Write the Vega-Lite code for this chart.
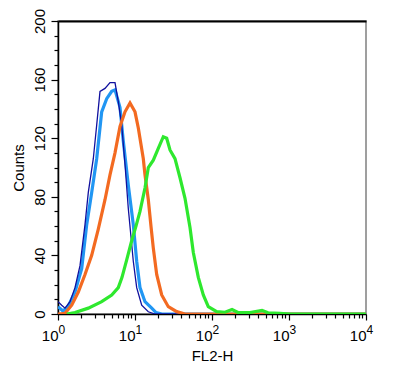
{
  "$schema": "https://vega.github.io/schema/vega-lite/v6.json",
  "width": 308,
  "height": 293,
  "autosize": {"type": "none"},
  "padding": {"left": 58, "top": 21, "right": 34, "bottom": 62},
  "background": "white",
  "config": {
    "font": "Liberation Sans",
    "view": {"stroke": "#808080", "strokeWidth": 1.5},
    "axis": {"grid": false, "labelColor": "black", "titleColor": "black", "tickColor": "black", "domainColor": "black", "titleFontWeight": "normal", "labelFontSize": 15, "titleFontSize": 15}
  },
  "data": {
    "values": [
      {"s": "navy", "x": 1, "c": 8.4}, {"s": "navy", "x": 1.117, "c": 6}, {"s": "navy", "x": 1.233, "c": 4}, {"s": "navy", "x": 1.432, "c": 8.4}, {"s": "navy", "x": 1.663, "c": 18}, {"s": "navy", "x": 1.931, "c": 33}, {"s": "navy", "x": 2.242, "c": 61}, {"s": "navy", "x": 2.475, "c": 83}, {"s": "navy", "x": 2.874, "c": 106}, {"s": "navy", "x": 3.181, "c": 129}, {"s": "navy", "x": 3.511, "c": 152}, {"s": "navy", "x": 4.077, "c": 154}, {"s": "navy", "x": 4.734, "c": 158}, {"s": "navy", "x": 5.499, "c": 158}, {"s": "navy", "x": 6.069, "c": 145}, {"s": "navy", "x": 6.72, "c": 129}, {"s": "navy", "x": 7.418, "c": 102}, {"s": "navy", "x": 8.185, "c": 72}, {"s": "navy", "x": 9.504, "c": 36}, {"s": "navy", "x": 10.52, "c": 18}, {"s": "navy", "x": 12.22, "c": 6}, {"s": "navy", "x": 14.89, "c": 1.5}, {"s": "navy", "x": 18.19, "c": 0}, {"s": "navy", "x": 10000, "c": 0},
      {"s": "sky", "x": 1, "c": 5}, {"s": "sky", "x": 1.161, "c": 2}, {"s": "sky", "x": 1.348, "c": 5}, {"s": "sky", "x": 1.663, "c": 15}, {"s": "sky", "x": 2.031, "c": 31}, {"s": "sky", "x": 2.359, "c": 61}, {"s": "sky", "x": 2.739, "c": 83}, {"s": "sky", "x": 3.181, "c": 106}, {"s": "sky", "x": 3.694, "c": 138}, {"s": "sky", "x": 4.29, "c": 147}, {"s": "sky", "x": 4.983, "c": 152}, {"s": "sky", "x": 5.499, "c": 153}, {"s": "sky", "x": 6.386, "c": 141}, {"s": "sky", "x": 7.047, "c": 118}, {"s": "sky", "x": 8.185, "c": 88}, {"s": "sky", "x": 9.504, "c": 61}, {"s": "sky", "x": 10.52, "c": 36}, {"s": "sky", "x": 11.61, "c": 18}, {"s": "sky", "x": 13.48, "c": 8.4}, {"s": "sky", "x": 16.48, "c": 4}, {"s": "sky", "x": 18.74, "c": 1}, {"s": "sky", "x": 22.42, "c": 0}, {"s": "sky", "x": 10000, "c": 0},
      {"s": "orange", "x": 1, "c": 0}, {"s": "orange", "x": 1.233, "c": 0.5}, {"s": "orange", "x": 1.506, "c": 6}, {"s": "orange", "x": 1.835, "c": 15}, {"s": "orange", "x": 2.242, "c": 27}, {"s": "orange", "x": 2.739, "c": 40}, {"s": "orange", "x": 3.337, "c": 58}, {"s": "orange", "x": 4.077, "c": 78}, {"s": "orange", "x": 4.734, "c": 95}, {"s": "orange", "x": 5.499, "c": 110}, {"s": "orange", "x": 6.386, "c": 128}, {"s": "orange", "x": 7.418, "c": 138}, {"s": "orange", "x": 8.612, "c": 144}, {"s": "orange", "x": 10, "c": 138}, {"s": "orange", "x": 11.04, "c": 127}, {"s": "orange", "x": 12.82, "c": 106}, {"s": "orange", "x": 13.48, "c": 95}, {"s": "orange", "x": 14.89, "c": 78}, {"s": "orange", "x": 16.12, "c": 60}, {"s": "orange", "x": 17.29, "c": 45}, {"s": "orange", "x": 19.13, "c": 27}, {"s": "orange", "x": 22.22, "c": 13}, {"s": "orange", "x": 27.07, "c": 5}, {"s": "orange", "x": 34.8, "c": 1.6}, {"s": "orange", "x": 44.6, "c": 0}, {"s": "orange", "x": 10000, "c": 0},
      {"s": "green", "x": 1.3, "c": 0}, {"s": "green", "x": 1.663, "c": 1}, {"s": "green", "x": 2.475, "c": 4}, {"s": "green", "x": 3.694, "c": 8.4}, {"s": "green", "x": 4.983, "c": 13}, {"s": "green", "x": 6.069, "c": 18}, {"s": "green", "x": 6.781, "c": 25}, {"s": "green", "x": 7.8, "c": 37}, {"s": "green", "x": 9.06, "c": 50}, {"s": "green", "x": 10.3, "c": 60}, {"s": "green", "x": 11.61, "c": 70}, {"s": "green", "x": 13.48, "c": 86}, {"s": "green", "x": 14.89, "c": 100}, {"s": "green", "x": 17.29, "c": 105}, {"s": "green", "x": 20.07, "c": 113}, {"s": "green", "x": 23.31, "c": 121}, {"s": "green", "x": 25.8, "c": 120}, {"s": "green", "x": 28.48, "c": 112}, {"s": "green", "x": 33.07, "c": 106}, {"s": "green", "x": 38.41, "c": 93}, {"s": "green", "x": 44.6, "c": 79}, {"s": "green", "x": 51.8, "c": 59}, {"s": "green", "x": 57.2, "c": 42}, {"s": "green", "x": 66.4, "c": 25}, {"s": "green", "x": 77.1, "c": 13}, {"s": "green", "x": 89.5, "c": 5}, {"s": "green", "x": 115, "c": 1.6}, {"s": "green", "x": 147.5, "c": 1.2}, {"s": "green", "x": 181.9, "c": 3}, {"s": "green", "x": 217.7, "c": 1}, {"s": "green", "x": 311.6, "c": 1}, {"s": "green", "x": 446, "c": 2.5}, {"s": "green", "x": 533.9, "c": 0.8}, {"s": "green", "x": 764, "c": 0.5}, {"s": "green", "x": 1030, "c": 0}, {"s": "green", "x": 10000, "c": 0}
    ]
  },
  "layer": [
    {
      "transform": [{"filter": "datum.s === 'sky'"}],
      "mark": {"type": "line", "strokeWidth": 3.2, "clip": true},
      "encoding": {
        "x": {"field": "x", "type": "quantitative", "scale": {"type": "log", "domain": [1, 10000], "nice": false},
          "axis": {"orient": "bottom", "title": "FL2-H", "values": [1, 10, 100, 1000, 10000], "labelExpr": "'10'", "labelFontSize": 15, "labelAlign": "right", "labelDx": -1, "tickSize": 6, "tickWidth": 1.2, "domainWidth": 1.5, "labelPadding": 8, "labelFlush": false, "labelOverlap": false, "titlePadding": 5}},
        "y": {"field": "c", "type": "quantitative", "scale": {"domain": [0, 200], "nice": false},
          "axis": {"orient": "left", "title": "Counts", "values": [0, 40, 80, 120, 160, 200], "labelAngle": -90, "labelAlign": "center", "labelBaseline": "bottom", "tickSize": 7, "tickWidth": 1.2, "domainWidth": 1.5, "labelPadding": 4, "labelFlush": false, "labelOverlap": false, "titlePadding": 6}},
        "color": {"field": "s", "type": "nominal", "scale": {"domain": ["navy", "sky", "orange", "green"], "range": ["#10109e", "#2196f3", "#f36a21", "#2ee82e"]}, "legend": null}
      }
    },
    {
      "transform": [{"filter": "datum.s === 'navy'"}],
      "mark": {"type": "line", "strokeWidth": 1.3, "clip": true},
      "encoding": {
        "x": {"field": "x", "type": "quantitative", "scale": {"type": "log", "domain": [1, 10000], "nice": false},
          "axis": {"orient": "bottom", "title": null, "labels": false, "domain": false, "values": [2, 3, 4, 5, 6, 7, 8, 9, 20, 30, 40, 50, 60, 70, 80, 90, 200, 300, 400, 500, 600, 700, 800, 900, 2000, 3000, 4000, 5000, 6000, 7000, 8000, 9000], "tickSize": 4, "tickWidth": 1.2}},
        "y": {"field": "c", "type": "quantitative", "scale": {"domain": [0, 200], "nice": false},
          "axis": {"orient": "left", "title": null, "labels": false, "domain": false, "values": [10, 20, 30, 50, 60, 70, 90, 100, 110, 130, 140, 150, 170, 180, 190], "tickSize": 4, "tickWidth": 1.2}},
        "color": {"field": "s", "type": "nominal", "legend": null}
      }
    },
    {
      "transform": [{"filter": "datum.s === 'orange'"}],
      "mark": {"type": "line", "strokeWidth": 3.2, "clip": true},
      "encoding": {
        "x": {"field": "x", "type": "quantitative", "scale": {"type": "log", "domain": [1, 10000], "nice": false},
          "axis": {"orient": "top", "title": null, "labels": false, "ticks": false, "domain": true, "domainWidth": 1.8, "domainColor": "black"}},
        "y": {"field": "c", "type": "quantitative", "scale": {"domain": [0, 200], "nice": false}, "axis": null},
        "color": {"field": "s", "type": "nominal", "legend": null}
      }
    },
    {
      "transform": [{"filter": "datum.s === 'green'"}],
      "mark": {"type": "line", "strokeWidth": 3.2, "clip": true},
      "encoding": {
        "x": {"field": "x", "type": "quantitative", "scale": {"type": "log", "domain": [1, 10000], "nice": false},
          "axis": {"orient": "bottom", "title": null, "domain": false, "ticks": false, "tickSize": 0, "values": [1, 10, 100, 1000, 10000], "labelExpr": "format(log(datum.value) / LN10, '.0f')", "labelFontSize": 12, "labelAlign": "left", "labelDx": 1, "labelPadding": 10, "labelFlush": false, "labelOverlap": false}},
        "y": {"field": "c", "type": "quantitative", "scale": {"domain": [0, 200], "nice": false}, "axis": null},
        "color": {"field": "s", "type": "nominal", "legend": null}
      }
    }
  ],
  "resolve": {"axis": {"x": "independent", "y": "independent"}}
}
